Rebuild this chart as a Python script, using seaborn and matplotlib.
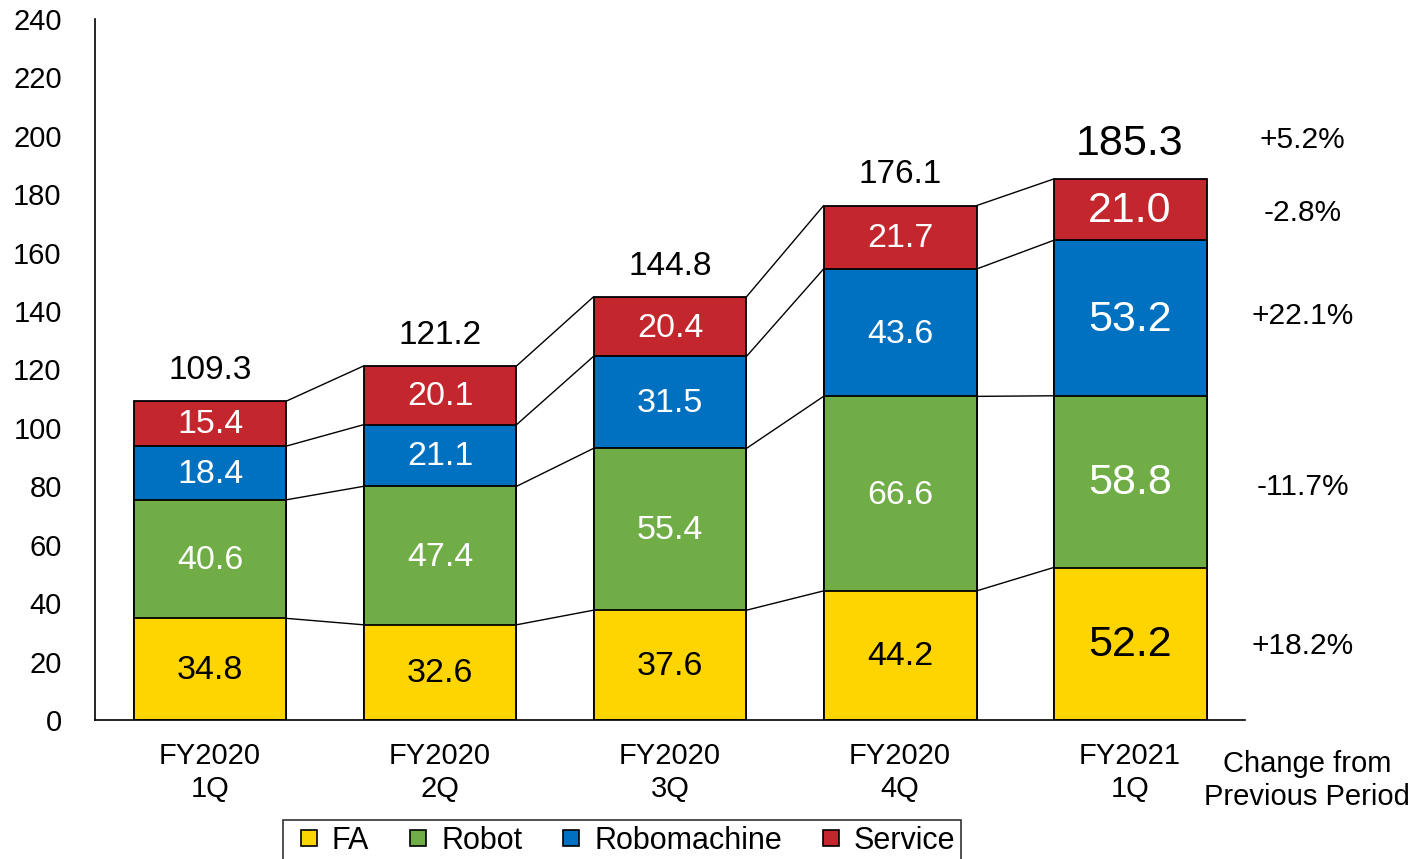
import numpy as np
import pandas as pd
import matplotlib.pyplot as plt
from matplotlib.lines import Line2D
import seaborn as sns

# Data
periods = ['FY2020\n1Q', 'FY2020\n2Q', 'FY2020\n3Q', 'FY2020\n4Q', 'FY2021\n1Q']
segments = ['FA', 'Robot', 'Robomachine', 'Service']
fa = [34.8, 32.6, 37.6, 44.2, 52.2]
robot = [40.6, 47.4, 55.4, 66.6, 58.8]
robomachine = [18.4, 21.1, 31.5, 43.6, 53.2]
service = [15.4, 20.1, 20.4, 21.7, 21.0]
totals = [109.3, 121.2, 144.8, 176.1, 185.3]
change_labels = ['+18.2%', '-11.7%', '+22.1%', '-2.8%', '+5.2%']
change_y = [25.3, 79.8, 138.3, 173.6, 198.6]

colors = {'FA': '#FFD500', 'Robot': '#70AD47', 'Robomachine': '#0070C0', 'Service': '#C4262E'}
text_colors = {'FA': 'black', 'Robot': 'white', 'Robomachine': 'white', 'Service': 'white'}

sns.set_style('white')
plt.rcParams['font.family'] = ['Liberation Sans', 'DejaVu Sans']
plt.rcParams['text.color'] = 'black'
plt.rcParams['xtick.color'] = 'black'
plt.rcParams['ytick.color'] = 'black'

df = pd.DataFrame({'period': periods, 'FA': fa, 'Robot': robot,
                   'Robomachine': robomachine, 'Service': service})
cum = df[segments].cumsum(axis=1)

fig = plt.figure(figsize=(14.14, 8.59), dpi=100)
ax = fig.add_axes([0.0672, 0.1618, 0.8133, 0.8161])

bar_w = 0.665
# layered bars, tallest first
for seg in reversed(segments):
    sns.barplot(x=df['period'], y=cum[seg], color=colors[seg], saturation=1,
                width=bar_w, edgecolor='black', linewidth=1.3, ax=ax, zorder=2)

# connecting lines between bars
xs = np.arange(len(periods))
for seg in segments:
    for i in range(len(periods) - 1):
        ax.plot([xs[i] + bar_w / 2, xs[i + 1] - bar_w / 2],
                [cum[seg][i], cum[seg][i + 1]], color='black', lw=1.0, zorder=1)

# segment labels
for i in range(len(periods)):
    last = i == len(periods) - 1
    fs = 31 if last else 24.5
    bottom = 0
    for seg in segments:
        v = df[seg][i]
        ax.text(xs[i], bottom + v / 2 - 0.5, f'{v:.1f}', ha='center', va='center',
                color=text_colors[seg], fontsize=fs, zorder=3)
        bottom += v
    ax.text(xs[i], totals[i] + (12 if last else 10.5), f'{totals[i]:.1f}',
            ha='center', va='center', fontsize=31 if last else 24, zorder=3)

# change from previous period
for lab, y in zip(change_labels, change_y):
    ax.text(4.75, y, lab, ha='center', va='center', fontsize=21.5, clip_on=False)
ax.text(4.77, -10.3, 'Change from\nPrevious Period', ha='center', va='top',
        fontsize=21, clip_on=False, linespacing=1.22)

ax.set_xlim(-0.5, 4.5)
ax.set_ylim(0, 240)
ax.set_yticks(np.arange(0, 241, 20))
ax.set_xticks(xs)
ax.set_xticklabels(periods, fontsize=21, linespacing=1.2)
ax.set_xticks(np.arange(-0.5, 4.6, 1), minor=True)
ax.tick_params(axis='x', which='major', length=0, pad=16)
ax.tick_params(axis='x', which='minor', direction='in', length=9, width=1.2, color='black')
ax.tick_params(axis='y', direction='in', length=9, width=1.2, labelsize=21, pad=24, color='black')
ax.set_xlabel('')
ax.set_ylabel('')
sns.despine(ax=ax, top=True, right=True)
ax.spines['left'].set_color('black')
ax.spines['bottom'].set_color('black')
ax.spines['left'].set_linewidth(1.2)
ax.spines['bottom'].set_linewidth(1.2)

handles = [Line2D([], [], marker='s', linestyle='none', markersize=12,
                  markerfacecolor=colors[s], markeredgecolor='black', markeredgewidth=1.2)
           for s in segments]
leg = fig.legend(handles, segments, loc='upper center', bbox_to_anchor=(0.44, 0.0455),
                 ncol=4, fontsize=22, frameon=True, fancybox=False, edgecolor='black',
                 handletextpad=0.1, columnspacing=0.95, borderpad=0.2, handlelength=1.3,
                 borderaxespad=0)
leg.get_frame().set_linewidth(1.2)

fig.savefig('out.png', dpi=100)
